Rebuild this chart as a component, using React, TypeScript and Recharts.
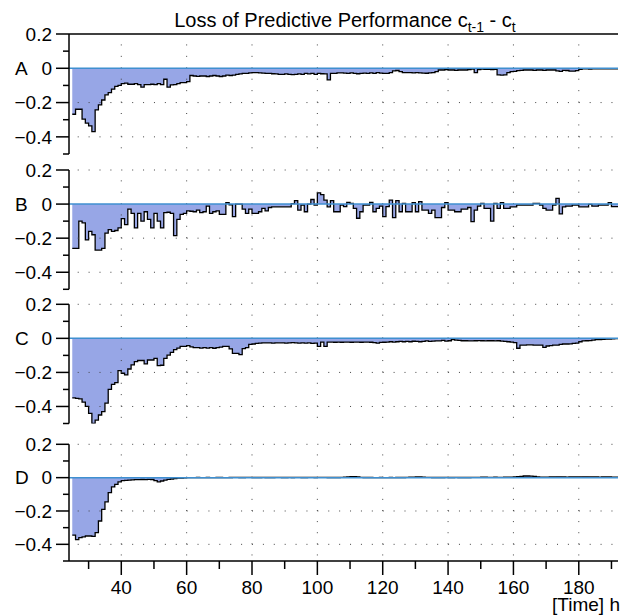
import React from 'react';
import { ComposedChart, Area, XAxis, YAxis, ReferenceLine } from 'recharts';

// hourly values, first sample at hour 25, last at hour 192
const START_HOUR = 25;

const lossA = [
  -0.268, -0.239, -0.239, -0.297, -0.32, -0.336, -0.369, -0.243, -0.214, -0.185,
  -0.155, -0.142, -0.122, -0.105, -0.1, -0.09, -0.087, -0.093, -0.093, -0.09,
  -0.095, -0.11, -0.095, -0.095, -0.093, -0.095, -0.09, -0.095, -0.064, -0.11,
  -0.097, -0.095, -0.09, -0.084, -0.084, -0.078, -0.042, -0.045, -0.047, -0.045,
  -0.045, -0.048, -0.045, -0.042, -0.045, -0.048, -0.045, -0.04, -0.042, -0.04,
  -0.035, -0.033, -0.03, -0.03, -0.027, -0.025, -0.025, -0.027, -0.028, -0.03,
  -0.03, -0.032, -0.033, -0.035, -0.035, -0.033, -0.035, -0.037, -0.035, -0.033,
  -0.035, -0.03, -0.033, -0.03, -0.035, -0.03, -0.032, -0.033, -0.068, -0.03,
  -0.03, -0.027, -0.027, -0.028, -0.03, -0.027, -0.03, -0.032, -0.03, -0.028,
  -0.03, -0.027, -0.03, -0.025, -0.028, -0.03, -0.03, -0.025, -0.015, -0.013,
  -0.02, -0.025, -0.025, -0.025, -0.027, -0.025, -0.027, -0.028, -0.029, -0.027,
  -0.025, -0.02, -0.01, -0.01, -0.008, -0.01, -0.01, -0.012, -0.01, -0.01,
  -0.01, -0.008, -0.005, -0.025, -0.008, -0.005, -0.006, -0.006, -0.008, -0.006,
  -0.038, -0.04, -0.038, -0.025, -0.02, -0.018, -0.014, -0.012, -0.01, -0.01,
  -0.01, -0.012, -0.01, -0.01, -0.012, -0.01, -0.01, -0.01, -0.015, -0.018,
  -0.012, -0.013, -0.017, -0.017, -0.014, -0.006, -0.004, -0.004, -0.005, -0.004,
  -0.004, -0.003, -0.004, -0.003, -0.004, -0.003, -0.003, -0.003,
];

const lossB = [
  -0.26, -0.26, -0.1, -0.11, -0.21, -0.16, -0.18, -0.27, -0.27, -0.26,
  -0.17, -0.15, -0.16, -0.155, -0.14, -0.085, -0.12, -0.03, -0.055, -0.14,
  -0.055, -0.1, -0.045, -0.09, -0.14, -0.055, -0.1, -0.14, -0.05, -0.048,
  -0.054, -0.185, -0.09, -0.06, -0.055, -0.04, -0.042, -0.045, -0.035, -0.05,
  -0.045, -0.012, -0.054, -0.045, -0.04, -0.06, -0.06, 0.008, -0.005, -0.074,
  0, 0, -0.03, -0.054, -0.03, -0.054, -0.054, -0.045, -0.025, -0.04,
  -0.02, -0.016, -0.016, -0.016, -0.016, -0.016, -0.016, 0.003, 0.02, -0.035,
  -0.006, -0.045, 0, 0.027, -0.006, 0.066, 0.056, 0.023, -0.016, 0.02,
  -0.045, -0.045, -0.006, -0.015, 0.01, 0.004, -0.025, -0.083, -0.045, -0.006,
  -0.006, 0.01, -0.045, -0.025, -0.012, -0.074, -0.015, 0.023, -0.08, 0.02,
  -0.045, 0.004, -0.045, -0.045, 0.008, -0.045, 0.015, -0.035, -0.035, -0.054,
  -0.035, -0.08, -0.08, -0.02, 0.008, -0.035, -0.035, -0.045, -0.045, -0.03,
  -0.03, -0.02, -0.103, -0.035, -0.012, 0.004, -0.025, -0.025, -0.1, 0.004,
  -0.025, 0.008, -0.025, -0.025, -0.016, -0.016, -0.006, -0.006, -0.006, -0.006,
  -0.006, 0.004, 0.004, -0.006, -0.025, -0.035, -0.035, -0.006, 0.033, -0.058,
  -0.016, -0.012, -0.012, -0.006, -0.006, -0.016, -0.016, -0.016, -0.002, -0.012,
  -0.012, -0.006, -0.006, -0.006, 0.008, -0.015, -0.015, -0.015,
];

const lossC = [
  -0.35, -0.352, -0.355, -0.375, -0.4, -0.44, -0.5, -0.48, -0.45, -0.43,
  -0.38, -0.3, -0.27, -0.26, -0.19, -0.205, -0.215, -0.18, -0.156, -0.137,
  -0.13, -0.13, -0.15, -0.127, -0.127, -0.117, -0.16, -0.158, -0.117, -0.098,
  -0.082, -0.066, -0.057, -0.047, -0.047, -0.043, -0.05, -0.055, -0.055, -0.057,
  -0.055, -0.057, -0.055, -0.058, -0.055, -0.052, -0.047, -0.047, -0.062, -0.088,
  -0.088, -0.095, -0.06, -0.055, -0.035, -0.033, -0.03, -0.028, -0.027, -0.027,
  -0.027, -0.028, -0.027, -0.026, -0.027, -0.028, -0.027, -0.025, -0.027, -0.028,
  -0.027, -0.028, -0.026, -0.03, -0.028, -0.047, -0.022, -0.047, -0.022, -0.022,
  -0.023, -0.022, -0.023, -0.022, -0.022, -0.023, -0.022, -0.022, -0.023, -0.022,
  -0.022, -0.023, -0.025, -0.028, -0.024, -0.023, -0.022, -0.02, -0.022, -0.02,
  -0.018, -0.02, -0.018, -0.02, -0.017, -0.018, -0.02, -0.018, -0.015, -0.018,
  -0.016, -0.015, -0.015, -0.012, -0.016, -0.014, -0.008, -0.01, -0.012, -0.014,
  -0.014, -0.015, -0.015, -0.014, -0.013, -0.014, -0.015, -0.014, -0.014, -0.015,
  -0.014, -0.016, -0.018, -0.02, -0.022, -0.025, -0.058, -0.04, -0.04, -0.038,
  -0.038, -0.04, -0.04, -0.04, -0.053, -0.045, -0.043, -0.04, -0.04, -0.035,
  -0.033, -0.033, -0.032, -0.03, -0.028, -0.02, -0.015, -0.014, -0.013, -0.01,
  -0.008, -0.008, -0.006, -0.005, -0.004, -0.003, -0.002, 0.002,
];

const lossD = [
  -0.345, -0.372, -0.36, -0.355, -0.35, -0.35, -0.352, -0.33, -0.26, -0.19,
  -0.145, -0.09, -0.055, -0.04, -0.025, -0.018, -0.016, -0.015, -0.013, -0.012,
  -0.012, -0.011, -0.012, -0.01, -0.011, -0.018, -0.025, -0.02, -0.015, -0.01,
  -0.008, -0.005, -0.003, -0.002, -0.001, 0, 0, 0, 0.001, 0,
  0, 0.001, 0, 0, 0.001, 0.001, 0, 0, 0.001, 0.002,
  0.002, 0.001, 0.001, 0.002, 0.002, 0.001, 0.001, 0.001, 0.002, 0.001,
  0.001, 0.001, 0.002, 0.002, 0.001, 0.001, 0.002, 0.001, 0.002, 0.002,
  0.001, 0.001, 0.002, 0.002, 0.001, 0.002, 0.002, 0.002, 0.001, 0.001,
  0.001, 0.001, 0.002, 0.003, 0.004, 0.006, 0.006, 0.004, 0.002, 0.001,
  0.001, 0.001, 0, 0, 0.001, 0, 0, 0.001, 0, 0.001,
  0.001, 0.001, 0.002, 0.003, 0.003, 0.004, 0.004, 0.003, 0.002, 0.002,
  0.001, 0.001, 0.001, 0.001, 0.002, 0.001, 0.001, 0.002, 0.001, 0.001,
  0.001, 0.001, 0.002, 0.002, 0.002, 0.003, 0.003, 0.002, 0.002, 0.003,
  0.002, 0.002, 0.003, 0.003, 0.003, 0.004, 0.006, 0.008, 0.01, 0.01,
  0.009, 0.007, 0.004, 0.003, 0.003, 0.003, 0.004, 0.004, 0.005, 0.005,
  0.004, 0.003, 0.004, 0.004, 0.004, 0.004, 0.005, 0.005, 0.004, 0.004,
  0.004, 0.003, 0.004, 0.004, 0.004, 0.003, 0.003, 0.003,
];

const panelLabels = ['A', 'B', 'C', 'D'];
const yTicks = [0.2, 0.1, 0, -0.1, -0.2, -0.3, -0.4, -0.5];
const yMajor = [0.2, 0, -0.2, -0.4];
const yGridDotted = [-0.2, -0.4];
const xTicks = [30, 40, 50, 60, 70, 80, 90, 100, 110, 120, 130, 140, 150, 160, 170, 180, 190];
const xMajor = [40, 60, 80, 100, 120, 140, 160, 180];
const xDomain = [24, 192];
const yDomain = [-0.5, 0.2];
const titleMain = 'Loss of Predictive Performance c';
const xAxisTitle = '[Time] h';

const W = 621;
const H = 615;
const PLOT_LEFT = 69;
const PLOT_RIGHT = 618;
const FONT = '"Liberation Sans", Arial, Helvetica, sans-serif';
const FILL = '#97a6e6';
const ZERO = '#3f8fd0';
const DOT = '#444';

const panels = [
  { top: 34, bottom: 154 },
  { top: 170, bottom: 289.3 },
  { top: 304.3, bottom: 423.5 },
  { top: 444.3, bottom: 561 },
];

const seriesList = [lossA, lossB, lossC, lossD];

const isIn = (arr: number[], v: number) => arr.some((m) => Math.abs(m - v) < 1e-9);

const fmtY = (v: number) => {
  if (Math.abs(v) < 1e-9) return '0';
  return v < 0 ? '\u2212' + Math.abs(v).toFixed(1) : v.toFixed(1);
};

const makeYTick = (letter: string) => (props: any) => {
  const { y, payload } = props;
  const v = payload.value as number;
  const major = isIn(yMajor, v);
  return (
    <g>
      <line x1={PLOT_LEFT - (major ? 13 : 6)} x2={PLOT_LEFT} y1={y} y2={y} stroke="#000" strokeWidth={1.5} />
      {major && (
        <text x={PLOT_LEFT - 17} y={y} dy="0.36em" textAnchor="end" fontSize={19} fontFamily={FONT} fill="#000">
          {fmtY(v)}
        </text>
      )}
      {Math.abs(v) < 1e-9 && (
        <text x={15} y={y} dy="0.36em" textAnchor="start" fontSize={19} fontFamily={FONT} fill="#000">
          {letter}
        </text>
      )}
    </g>
  );
};

const makeXTick = (axisY: number) => (props: any) => {
  const { x, payload } = props;
  const v = payload.value as number;
  const major = isIn(xMajor, v);
  return (
    <g>
      <line x1={x} x2={x} y1={axisY} y2={axisY + (major ? 14 : 8)} stroke="#000" strokeWidth={1.5} />
      {major && (
        <text x={x} y={axisY + 33} textAnchor="middle" fontSize={19} fontFamily={FONT} fill="#000">
          {v}
        </text>
      )}
    </g>
  );
};

function Panel({ index }: { index: number }) {
  const p = panels[index];
  const isLast = index === panels.length - 1;
  const xAxisH = 30;
  const data = seriesList[index].map((v, i) => ({ t: START_HOUR + i, v }));
  const plotH = p.bottom - p.top;
  const vPeriod = plotH / 10.5;
  const hPeriod = ((PLOT_RIGHT - PLOT_LEFT) / (xDomain[1] - xDomain[0])) * (20 / 6);
  const hOffset = hPeriod - (((40 - xDomain[0]) * (PLOT_RIGHT - PLOT_LEFT)) / (xDomain[1] - xDomain[0])) % hPeriod;
  const hDots = index === 0 ? yGridDotted : [0.2, ...yGridDotted];
  return (
    <div style={{ position: 'absolute', left: 0, top: 0 }}>
      <ComposedChart
        width={W}
        height={H}
        data={data}
        margin={{ top: p.top, bottom: H - p.bottom - (isLast ? xAxisH : 0), left: 0, right: W - PLOT_RIGHT }}
      >
        <XAxis
          dataKey="t"
          type="number"
          domain={xDomain}
          allowDataOverflow
          ticks={xTicks}
          hide={!isLast}
          height={xAxisH}
          tickSize={0}
          tickMargin={0}
          tickLine={false}
          interval={0}
          axisLine={{ stroke: '#000', strokeWidth: 1.5 }}
          tick={makeXTick(p.bottom)}
        />
        <YAxis
          type="number"
          domain={yDomain}
          allowDataOverflow
          ticks={yTicks}
          width={PLOT_LEFT}
          tickSize={0}
          tickMargin={0}
          tickLine={false}
          interval={0}
          axisLine={{ stroke: '#000', strokeWidth: 1.5 }}
          tick={makeYTick(panelLabels[index])}
        />
        {hDots.map((g) => (
          <ReferenceLine
            key={'h' + g}
            y={g}
            stroke={DOT}
            strokeWidth={1}
            strokeDasharray={`1 ${hPeriod - 1}`}
            strokeDashoffset={hOffset}
          />
        ))}
        {xMajor.map((g) => (
          <ReferenceLine
            key={'v' + g}
            x={g}
            stroke={DOT}
            strokeWidth={1}
            strokeDasharray={`1 ${vPeriod - 1}`}
            strokeDashoffset={vPeriod / 2}
          />
        ))}
        <Area
          dataKey="v"
          type="stepAfter"
          baseValue={0}
          fill={FILL}
          fillOpacity={1}
          stroke="#000"
          strokeWidth={1.3}
          dot={false}
          activeDot={false}
          isAnimationActive={false}
        />
        <ReferenceLine y={0} stroke={ZERO} strokeWidth={1.5} />
        {index === 0 && <ReferenceLine y={0.2} stroke="#000" strokeWidth={1.5} />}
      </ComposedChart>
    </div>
  );
}

export default function App() {
  return (
    <div style={{ position: 'absolute', left: 0, top: 0, width: W, height: H, background: '#fff', overflow: 'hidden' }}>
      {panels.map((_, i) => (
        <Panel key={i} index={i} />
      ))}
      <svg width={W} height={H} style={{ position: 'absolute', left: 0, top: 0, pointerEvents: 'none' }}>
        <text x={345} y={27} textAnchor="middle" fontSize={20} fontFamily={FONT} fill="#000">
          {titleMain}
          <tspan fontSize={14} dy={5}>t-1</tspan>
          <tspan dy={-5}> - c</tspan>
          <tspan fontSize={14} dy={5}>t</tspan>
        </text>
        <text x={620} y={611} textAnchor="end" fontSize={19} fontFamily={FONT} fill="#000">
          {xAxisTitle}
        </text>
      </svg>
    </div>
  );
}
